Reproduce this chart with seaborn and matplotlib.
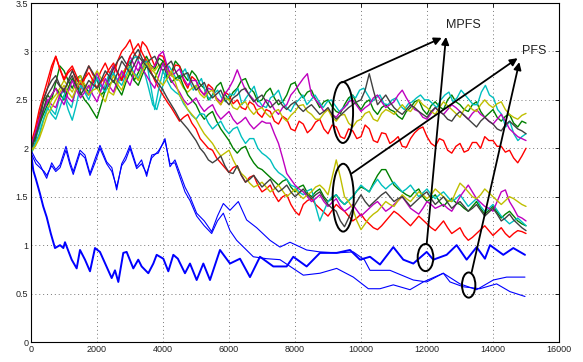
import numpy as np
import pandas as pd
import matplotlib
matplotlib.use("Agg")
import matplotlib.pyplot as plt
from matplotlib.patches import Ellipse
import seaborn as sns

# ---------------- data: colored runs, evenly sampled over 0..15000 ----------------
X_END = 15000
u_green = [2.00, 2.05, 2.28, 2.48, 2.55, 2.50, 2.68, 2.85, 2.80, 2.70,
           2.62, 2.72, 2.75, 2.64, 2.58, 2.68, 2.72, 2.55, 2.60, 2.76,
           2.85, 2.78, 2.70, 2.82, 2.90, 2.70, 2.78, 2.88, 2.95, 2.86,
           2.82, 2.93, 2.90, 2.72, 2.78, 2.90, 2.85, 2.76, 2.70, 2.80,
           2.75, 2.66, 2.62, 2.50, 2.55, 2.64, 2.68, 2.56, 2.50, 2.58,
           2.62, 2.70, 2.72, 2.62, 2.58, 2.48, 2.50, 2.58, 2.62, 2.52,
           2.45, 2.48, 2.55, 2.66, 2.68, 2.58, 2.52, 2.58, 2.60, 2.50,
           2.42, 2.48, 2.50, 2.43, 2.38, 2.36, 2.45, 2.52, 2.55, 2.46,
           2.40, 2.47, 2.50, 2.40, 2.35, 2.42, 2.45, 2.40, 2.38, 2.33,
           2.30, 2.38, 2.42, 2.48, 2.50, 2.40, 2.35, 2.44, 2.48, 2.43,
           2.40, 2.50, 2.55, 2.48, 2.45, 2.40, 2.38, 2.45, 2.48, 2.38,
           2.32, 2.36, 2.40, 2.32, 2.28, 2.33, 2.35, 2.26, 2.22, 2.28, 2.26]
u_red = [2.02, 2.15, 2.35, 2.50, 2.62, 2.80, 2.95, 2.82, 2.70, 2.78,
         2.82, 2.68, 2.60, 2.72, 2.85, 2.76, 2.70, 2.80, 2.88, 2.78,
         2.75, 2.90, 3.00, 3.05, 3.12, 2.98, 2.92, 3.10, 3.05, 2.95,
         2.85, 2.96, 2.95, 2.82, 2.75, 2.86, 2.85, 2.70, 2.62, 2.74,
         2.70, 2.60, 2.55, 2.66, 2.62, 2.50, 2.45, 2.58, 2.55, 2.46,
         2.50, 2.42, 2.40, 2.48, 2.45, 2.36, 2.32, 2.40, 2.38, 2.28,
         2.25, 2.33, 2.30, 2.20, 2.18, 2.28, 2.25, 2.16, 2.20, 2.27,
         2.30, 2.20, 2.15, 2.24, 2.22, 2.12, 2.10, 2.20, 2.18, 2.10,
         2.12, 2.24, 2.20, 2.08, 2.06, 2.16, 2.15, 2.05, 2.08, 2.12,
         2.02, 2.01, 2.10, 2.16, 2.20, 2.22, 2.12, 2.05, 2.02, 2.10,
         2.08, 1.98, 1.95, 2.02, 2.05, 1.96, 1.98, 2.06, 2.06, 2.00,
         2.12, 2.08, 2.08, 2.02, 2.02, 1.96, 1.98, 1.90, 1.85, 1.92, 2.00]
u_cyan = [2.05, 2.10, 2.20, 2.38, 2.50, 2.40, 2.35, 2.52, 2.60, 2.48,
          2.42, 2.60, 2.70, 2.62, 2.55, 2.68, 2.75, 2.66, 2.62, 2.74,
          2.80, 2.72, 2.70, 2.80, 2.88, 2.92, 2.95, 2.85, 2.78, 2.62,
          2.45, 2.40, 2.55, 2.75, 2.85, 2.78, 2.70, 2.76, 2.82, 2.70,
          2.60, 2.66, 2.72, 2.58, 2.50, 2.56, 2.60, 2.52, 2.48, 2.56,
          2.55, 2.62, 2.45, 2.52, 2.58, 2.64, 2.50, 2.44, 2.42, 2.52,
          2.55, 2.60, 2.48, 2.42, 2.38, 2.46, 2.50, 2.55, 2.45, 2.50,
          2.55, 2.48, 2.42, 2.48, 2.50, 2.44, 2.38, 2.42, 2.45, 2.55,
          2.52, 2.60, 2.62, 2.55, 2.48, 2.52, 2.55, 2.46, 2.45, 2.50,
          2.52, 2.44, 2.40, 2.46, 2.48, 2.52, 2.55, 2.50, 2.50, 2.46,
          2.42, 2.50, 2.55, 2.58, 2.48, 2.52, 2.60, 2.55, 2.50, 2.45,
          2.45, 2.58, 2.65, 2.55, 2.52, 2.40, 2.35, 2.22, 2.28, 2.15,
          2.08, 2.12, 2.15]
u_magenta = [1.98, 2.10, 2.25, 2.40, 2.50, 2.45, 2.42, 2.55, 2.62, 2.52,
             2.48, 2.62, 2.70, 2.60, 2.55, 2.68, 2.78, 2.66, 2.60, 2.72,
             2.85, 2.78, 2.72, 2.84, 2.95, 2.86, 2.80, 2.90, 2.92, 2.82,
             2.85, 2.96, 3.00, 2.85, 2.75, 2.78, 2.82, 2.72, 2.65, 2.70,
             2.70, 2.60, 2.55, 2.62, 2.60, 2.52, 2.48, 2.56, 2.62, 2.70,
             2.81, 2.70, 2.60, 2.55, 2.50, 2.44, 2.42, 2.50, 2.48, 2.40,
             2.35, 2.42, 2.45, 2.55, 2.60, 2.66, 2.72, 2.77, 2.55, 2.50,
             2.45, 2.38, 2.40, 2.35, 2.32, 2.38, 2.42, 2.48, 2.50, 2.44,
             2.38, 2.42, 2.45, 2.52, 2.55, 2.48, 2.42, 2.45, 2.48, 2.55,
             2.60, 2.52, 2.45, 2.40, 2.38, 2.32, 2.30, 2.36, 2.42, 2.38,
             2.35, 2.40, 2.45, 2.42, 2.38, 2.34, 2.30, 2.36, 2.40, 2.35,
             2.32, 2.28, 2.25, 2.30, 2.35, 2.28, 2.20, 2.16, 2.12, 2.10, 2.08]
u_olive = [1.95, 2.02, 2.12, 2.28, 2.40, 2.50, 2.55, 2.62, 2.70, 2.64,
           2.58, 2.68, 2.75, 2.66, 2.62, 2.72, 2.80, 2.72, 2.68, 2.58,
           2.55, 2.66, 2.78, 2.82, 2.85, 2.76, 2.72, 2.84, 2.92, 2.85,
           2.80, 2.86, 2.88, 2.80, 2.75, 2.72, 2.70, 2.62, 2.58, 2.62,
           2.65, 2.56, 2.52, 2.58, 2.60, 2.50, 2.45, 2.52, 2.50, 2.42,
           2.40, 2.46, 2.48, 2.40, 2.35, 2.40, 2.42, 2.36, 2.32, 2.38,
           2.40, 2.32, 2.28, 2.34, 2.38, 2.44, 2.45, 2.38, 2.35, 2.30,
           2.30, 2.36, 2.40, 2.32, 2.28, 2.34, 2.35, 2.26, 2.22, 2.28,
           2.30, 2.36, 2.38, 2.30, 2.28, 2.36, 2.40, 2.38, 2.35, 2.40,
           2.45, 2.40, 2.38, 2.44, 2.50, 2.45, 2.42, 2.38, 2.35, 2.42,
           2.48, 2.44, 2.40, 2.36, 2.32, 2.40, 2.45, 2.40, 2.38, 2.45,
           2.50, 2.45, 2.42, 2.46, 2.48, 2.40, 2.35, 2.32, 2.30, 2.34, 2.36]
u_gray = [2.00, 2.12, 2.30, 2.50, 2.62, 2.70, 2.75, 2.65, 2.58, 2.70,
          2.80, 2.72, 2.65, 2.76, 2.85, 2.78, 2.70, 2.64, 2.60, 2.72,
          2.82, 2.90, 2.95, 2.88, 2.85, 2.96, 3.02, 2.92, 2.88, 2.92,
          2.95, 2.86, 2.80, 2.86, 2.90, 2.80, 2.72, 2.76, 2.78, 2.68,
          2.60, 2.64, 2.68, 2.58, 2.52, 2.56, 2.60, 2.50, 2.45, 2.52,
          2.55, 2.60, 2.62, 2.54, 2.48, 2.52, 2.55, 2.48, 2.42, 2.46,
          2.50, 2.44, 2.40, 2.45, 2.48, 2.42, 2.38, 2.42, 2.45, 2.40,
          2.35, 2.38, 2.42, 2.35, 2.30, 2.34, 2.38, 2.42, 2.45, 2.48,
          2.50, 2.60, 2.77, 2.60, 2.45, 2.50, 2.55, 2.48, 2.42, 2.38,
          2.35, 2.40, 2.45, 2.42, 2.38, 2.35, 2.32, 2.38, 2.42, 2.38,
          2.35, 2.30, 2.28, 2.34, 2.38, 2.34, 2.30, 2.26, 2.22, 2.28,
          2.32, 2.28, 2.25, 2.20, 2.18, 2.24, 2.28, 2.24, 2.20, 2.18, 2.15]

l_green = [2.00, 2.10, 2.25, 2.35, 2.45, 2.55, 2.62, 2.56, 2.50, 2.62,
           2.72, 2.65, 2.58, 2.50, 2.45, 2.38, 2.31, 2.45, 2.60, 2.66,
           2.70, 2.62, 2.55, 2.68, 2.78, 2.70, 2.65, 2.76, 2.85, 2.78,
           2.72, 2.82, 2.90, 2.78, 2.68, 2.72, 2.75, 2.64, 2.55, 2.50,
           2.45, 2.36, 2.30, 2.35, 2.38, 2.28, 2.20, 2.14, 2.08, 2.00,
           1.95, 2.00, 2.02, 1.92, 1.85, 1.80, 1.78, 1.74, 1.70, 1.66,
           1.62, 1.66, 1.68, 1.60, 1.55, 1.60, 1.62, 1.54, 1.50, 1.55,
           1.58, 1.50, 1.45, 1.48, 1.52, 1.46, 1.42, 1.46, 1.50, 1.56,
           1.60, 1.58, 1.55, 1.64, 1.72, 1.78, 1.78, 1.70, 1.62, 1.58,
           1.55, 1.52, 1.50, 1.55, 1.58, 1.50, 1.45, 1.48, 1.52, 1.45,
           1.40, 1.45, 1.48, 1.44, 1.42, 1.38, 1.35, 1.40, 1.45, 1.38,
           1.32, 1.36, 1.40, 1.34, 1.28, 1.32, 1.35, 1.30, 1.25, 1.22, 1.20]
l_red = [2.05, 2.20, 2.40, 2.55, 2.70, 2.85, 2.95, 2.82, 2.72, 2.80,
         2.85, 2.75, 2.65, 2.72, 2.78, 2.70, 2.62, 2.68, 2.75, 2.82,
         2.88, 2.78, 2.70, 2.82, 2.95, 3.02, 3.08, 2.98, 2.90, 2.80,
         2.70, 2.62, 2.55, 2.48, 2.42, 2.35, 2.28, 2.32, 2.35, 2.26,
         2.20, 2.10, 2.05, 2.00, 1.98, 1.90, 1.85, 1.80, 1.75, 1.80,
         1.82, 1.72, 1.65, 1.70, 1.72, 1.62, 1.55, 1.58, 1.62, 1.52,
         1.45, 1.50, 1.52, 1.42, 1.35, 1.31, 1.42, 1.46, 1.48, 1.42,
         1.38, 1.34, 1.30, 1.36, 1.42, 1.38, 1.35, 1.30, 1.25, 1.28,
         1.32, 1.26, 1.22, 1.18, 1.16, 1.20, 1.25, 1.30, 1.35, 1.32,
         1.28, 1.24, 1.20, 1.25, 1.30, 1.26, 1.22, 1.18, 1.15, 1.20,
         1.25, 1.18, 1.12, 1.15, 1.18, 1.10, 1.05, 1.08, 1.12, 1.16,
         1.20, 1.15, 1.10, 1.14, 1.18, 1.12, 1.08, 1.12, 1.15, 1.14, 1.12]
l_cyan = [1.95, 2.05, 2.15, 2.30, 2.42, 2.35, 2.30, 2.42, 2.55, 2.40,
          2.29, 2.45, 2.65, 2.58, 2.50, 2.62, 2.72, 2.64, 2.58, 2.70,
          2.78, 2.70, 2.65, 2.76, 2.85, 2.78, 2.72, 2.82, 2.90, 2.65,
          2.40, 2.62, 2.80, 2.70, 2.62, 2.58, 2.55, 2.46, 2.40, 2.34,
          2.30, 2.36, 2.35, 2.26, 2.20, 2.24, 2.28, 2.20, 2.15, 2.20,
          2.22, 2.12, 2.05, 2.10, 2.10, 2.00, 1.95, 1.92, 1.88, 1.80,
          1.75, 1.72, 1.68, 1.62, 1.60, 1.55, 1.52, 1.56, 1.58, 1.40,
          1.25, 1.35, 1.45, 1.50, 1.52, 1.46, 1.42, 1.46, 1.50, 1.56,
          1.62, 1.58, 1.55, 1.62, 1.68, 1.62, 1.58, 1.62, 1.65, 1.60,
          1.55, 1.58, 1.62, 1.56, 1.50, 1.54, 1.58, 1.52, 1.48, 1.52,
          1.55, 1.50, 1.45, 1.48, 1.52, 1.46, 1.40, 1.44, 1.48, 1.40,
          1.35, 1.38, 1.42, 1.36, 1.30, 1.26, 1.22, 1.25, 1.28, 1.24, 1.20]
l_magenta = [2.02, 2.15, 2.30, 2.40, 2.48, 2.55, 2.62, 2.52, 2.45, 2.58,
             2.70, 2.60, 2.52, 2.58, 2.65, 2.55, 2.48, 2.60, 2.72, 2.64,
             2.58, 2.70, 2.80, 2.72, 2.65, 2.78, 2.90, 2.82, 2.75, 2.68,
             2.62, 2.75, 2.88, 2.78, 2.70, 2.64, 2.58, 2.50, 2.45, 2.48,
             2.52, 2.44, 2.38, 2.42, 2.45, 2.36, 2.30, 2.34, 2.38, 2.30,
             2.25, 2.28, 2.32, 2.25, 2.20, 2.24, 2.28, 2.26, 2.26, 2.15,
             2.05, 1.90, 1.74, 1.68, 1.62, 1.58, 1.55, 1.50, 1.45, 1.48,
             1.52, 1.45, 1.40, 1.44, 1.48, 1.40, 1.35, 1.38, 1.42, 1.36,
             1.30, 1.34, 1.38, 1.42, 1.45, 1.40, 1.35, 1.38, 1.42, 1.46,
             1.50, 1.44, 1.38, 1.35, 1.32, 1.38, 1.45, 1.42, 1.38, 1.40,
             1.42, 1.38, 1.35, 1.42, 1.50, 1.56, 1.62, 1.55, 1.48, 1.44,
             1.40, 1.38, 1.35, 1.45, 1.55, 1.57, 1.45, 1.38, 1.30, 1.28, 1.25]
l_olive = [1.98, 2.02, 2.10, 2.22, 2.35, 2.42, 2.50, 2.58, 2.65, 2.58,
           2.52, 2.62, 2.70, 2.62, 2.55, 2.60, 2.62, 2.55, 2.48, 2.62,
           2.75, 2.66, 2.60, 2.72, 2.82, 2.76, 2.70, 2.80, 2.88, 2.82,
           2.78, 2.70, 2.65, 2.72, 2.80, 2.68, 2.55, 2.48, 2.40, 2.35,
           2.30, 2.22, 2.15, 2.10, 2.05, 1.98, 1.92, 1.95, 1.98, 1.88,
           1.80, 1.74, 1.70, 1.64, 1.60, 1.62, 1.65, 1.60, 1.55, 1.58,
           1.62, 1.56, 1.50, 1.54, 1.58, 1.52, 1.48, 1.52, 1.55, 1.60,
           1.62, 1.58, 1.52, 1.70, 1.88, 1.70, 1.50, 1.45, 1.38, 1.25,
           1.16, 1.22, 1.28, 1.32, 1.35, 1.40, 1.45, 1.42, 1.40, 1.46,
           1.52, 1.48, 1.45, 1.50, 1.55, 1.52, 1.48, 1.52, 1.58, 1.54,
           1.50, 1.46, 1.45, 1.55, 1.64, 1.60, 1.55, 1.50, 1.48, 1.52,
           1.58, 1.54, 1.50, 1.46, 1.42, 1.46, 1.50, 1.48, 1.45, 1.42, 1.40]
l_gray = [2.00, 2.12, 2.25, 2.40, 2.55, 2.62, 2.70, 2.64, 2.60, 2.68,
          2.75, 2.64, 2.55, 2.62, 2.70, 2.66, 2.62, 2.70, 2.80, 2.74,
          2.68, 2.78, 2.90, 2.84, 2.78, 2.86, 2.95, 2.90, 2.85, 2.78,
          2.72, 2.66, 2.60, 2.52, 2.45, 2.38, 2.30, 2.25, 2.20, 2.14,
          2.08, 2.00, 1.95, 1.88, 1.85, 1.88, 1.92, 1.82, 1.75, 1.74,
          1.82, 1.72, 1.65, 1.68, 1.72, 1.66, 1.60, 1.64, 1.68, 1.60,
          1.55, 1.58, 1.62, 1.55, 1.50, 1.54, 1.58, 1.52, 1.48, 1.52,
          1.55, 1.48, 1.42, 1.38, 1.35, 1.25, 1.19, 1.28, 1.38, 1.45,
          1.52, 1.45, 1.40, 1.44, 1.48, 1.52, 1.55, 1.50, 1.45, 1.48,
          1.50, 1.45, 1.40, 1.44, 1.48, 1.52, 1.55, 1.48, 1.42, 1.46,
          1.50, 1.44, 1.38, 1.42, 1.45, 1.40, 1.35, 1.38, 1.42, 1.36,
          1.30, 1.34, 1.38, 1.32, 1.25, 1.28, 1.32, 1.26, 1.22, 1.18, 1.15]

# ---------------- data: blue curves (irregular samples) ----------------
blue_a_x = [0, 70, 150, 273, 370, 475, 600, 727, 880, 980, 1030, 1233, 1384, 1485, 1636, 1788, 1939, 2090,
            2445, 2545, 2646, 2797, 2898, 3100, 3250, 3353, 3555, 3707, 3808, 4010, 4161, 4313, 4450, 4666,
            4818, 5020, 5222, 5424, 5727, 6030, 6333, 6636, 6939, 7343, 7747, 7949, 8353, 8757, 9262, 9666,
            9969, 10272, 10575, 10979, 11282, 11585, 11990, 12191, 12595, 12898, 13201, 13504, 13756, 13909,
            14312, 14615, 14969]
blue_a_y = [1.95, 1.77, 1.68, 1.53, 1.40, 1.29, 1.12, 0.97, 1.00, 0.97, 1.03, 0.85, 0.76, 0.95, 0.85, 0.73, 0.97, 0.93,
            0.66, 0.74, 0.62, 0.92, 0.93, 0.76, 0.85, 0.78, 0.71, 0.81, 0.90, 0.86, 0.73, 0.90, 0.86, 0.71,
            0.81, 0.64, 0.81, 0.64, 0.95, 0.81, 0.86, 0.67, 0.88, 0.78, 0.78, 0.88, 0.78, 0.92, 0.92, 0.95,
            0.85, 0.88, 0.80, 0.98, 0.85, 0.81, 0.93, 0.85, 0.90, 1.00, 0.85, 0.98, 0.86, 1.00,
            0.90, 0.97, 0.90]
blue_b1_x = [0, 150, 273, 400, 475, 627, 750, 880, 1060, 1180, 1280, 1485, 1636, 1788, 1950, 2090, 2293, 2450,
             2596, 2748, 2870, 3000, 3202, 3350, 3505, 3657, 3857, 4060, 4212, 4363, 4666, 4818, 5020, 5250,
             5475, 5650, 5828, 6030, 6282, 6535, 6838, 7242, 7545, 7848, 8353, 8757, 9262, 9767, 10100,
             10272, 10878, 11585, 11990, 12494, 12999, 13504, 14009, 14413, 14969]
blue_b1_y = [1.98, 1.88, 1.83, 1.74, 1.69, 1.85, 1.78, 1.83, 2.02, 1.86, 1.76, 1.98, 1.93, 1.74, 1.90, 2.03, 1.86, 1.80,
             1.57, 1.84, 1.92, 2.03, 1.81, 1.88, 1.71, 1.93, 1.95, 2.10, 1.81, 1.88, 1.60, 1.50, 1.33, 1.25,
             1.14, 1.30, 1.43, 1.36, 1.45, 1.26, 1.18, 1.05, 0.98, 1.03, 0.95, 0.93, 0.92, 0.93, 0.85,
             0.74, 0.74, 0.64, 0.62, 0.71, 0.60, 0.54, 0.64, 0.67, 0.67]
blue_b2_x = [0, 150, 273, 400, 475, 627, 750, 880, 1060, 1180, 1280, 1485, 1636, 1788, 1950, 2090, 2293, 2450,
             2596, 2748, 2870, 3000, 3202, 3350, 3505, 3657, 3857, 4060, 4212, 4363, 4666, 4818, 5020, 5250,
             5475, 5650, 5828, 6030, 6232, 6737, 7141, 7545, 8252, 8757, 9262, 9767, 10222, 10575, 10979,
             11484, 11888, 12494, 12697, 13100, 13600, 14110, 14515, 14970]
blue_b2_y = [1.95, 1.84, 1.80, 1.76, 1.72, 1.82, 1.76, 1.80, 1.98, 1.83, 1.73, 1.95, 1.90, 1.72, 1.86, 2.00, 1.84, 1.76,
             1.60, 1.82, 1.88, 2.00, 1.79, 1.84, 1.74, 1.90, 1.97, 2.08, 1.84, 1.85, 1.55, 1.46, 1.30, 1.20,
             1.12, 1.25, 1.33, 1.15, 1.05, 0.88, 0.86, 0.85, 0.69, 0.71, 0.76, 0.67, 0.55, 0.55, 0.59,
             0.54, 0.62, 0.71, 0.62, 0.57, 0.55, 0.60, 0.52, 0.47]

x_ticks = [0, 2000, 4000, 6000, 8000, 10000, 12000, 14000, 16000]
x_tick_labels = ["0", "2000", "4000", "6000", "8000", "10000", "12000", "14000", "16000"]
y_ticks = [0, 0.5, 1, 1.5, 2, 2.5, 3, 3.5]
y_tick_labels = ["0", "0.5", "1", "1.5", "2", "2.5", "3", "3.5"]

# ---------------- style ----------------
sns.set_style("white")
plt.rcParams["font.family"] = ["Liberation Sans", "DejaVu Sans"]

C_GREEN = (0, 0.5, 0)
C_RED = (1, 0, 0)
C_CYAN = (0, 0.75, 0.75)
C_MAG = (0.75, 0, 0.75)
C_OLIVE = (0.75, 0.75, 0)
C_GRAY = (0.25, 0.25, 0.25)
C_BLUE = (0, 0, 1)

fig = plt.figure(figsize=(5.83, 3.62), dpi=100)
ax = fig.add_axes([31/583, 20/362, 528/583, 339/362])

def draw(xs, ys, color, lw):
    df = pd.DataFrame({"x": xs, "y": ys})
    sns.lineplot(data=df, x="x", y="y", color=color, lw=lw, ax=ax,
                 estimator=None, sort=False, legend=False)

series = [
    (u_green, C_GREEN), (u_red, C_RED), (u_cyan, C_CYAN), (u_magenta, C_MAG),
    (u_olive, C_OLIVE), (u_gray, C_GRAY),
    (l_green, C_GREEN), (l_red, C_RED), (l_cyan, C_CYAN), (l_magenta, C_MAG),
    (l_olive, C_OLIVE), (l_gray, C_GRAY),
]
for vals, col in series:
    xs = np.linspace(0, X_END, len(vals))
    draw(xs, vals, col, 1.0)

draw(blue_a_x, blue_a_y, C_BLUE, 1.4)
draw(blue_b1_x, blue_b1_y, C_BLUE, 0.8)
draw(blue_b2_x, blue_b2_y, C_BLUE, 0.8)

# annotations
for (cx, cy, w, h) in [(9450, 2.37, 620, 0.63), (9460, 1.49, 640, 0.70),
                       (11955, 0.872, 475, 0.28), (13263, 0.588, 405, 0.26)]:
    ax.add_patch(Ellipse((cx, cy), w, h, fill=False, ec="k", lw=1.4, zorder=5))

arrows = [((9430, 2.68), (12446, 3.14)),
          ((11990, 1.01), (12575, 3.15)),
          ((9717, 1.74), (14746, 2.93)),
          ((13353, 0.72), (14797, 2.89))]
for start, end in arrows:
    ax.annotate("", xy=end, xytext=start,
                arrowprops=dict(arrowstyle="-|>", color="k", lw=1.3,
                                mutation_scale=11, shrinkA=0, shrinkB=0),
                zorder=6)

ax.text(13090, 3.27, "MPFS", ha="center", va="center", fontsize=9, color="#222222")
ax.text(15233, 3.00, "PFS", ha="center", va="center", fontsize=9, color="#222222")

ax.set_xlim(0, 16000)
ax.set_ylim(0, 3.5)
ax.set_xticks(x_ticks)
ax.set_xticklabels(x_tick_labels)
ax.set_yticks(y_ticks)
ax.set_yticklabels(y_tick_labels)
ax.set_xlabel("")
ax.set_ylabel("")
ax.grid(True, linestyle=(0, (1, 3)), color="#777777", lw=0.7)
ax.tick_params(direction="in", length=3, width=0.6, labelsize=6.5,
               top=True, right=True, pad=2, colors="k", labelcolor="#222222")
for s in ax.spines.values():
    s.set_color("k")
    s.set_linewidth(0.8)
    s.set_visible(True)

fig.savefig("out.png", dpi=100)
